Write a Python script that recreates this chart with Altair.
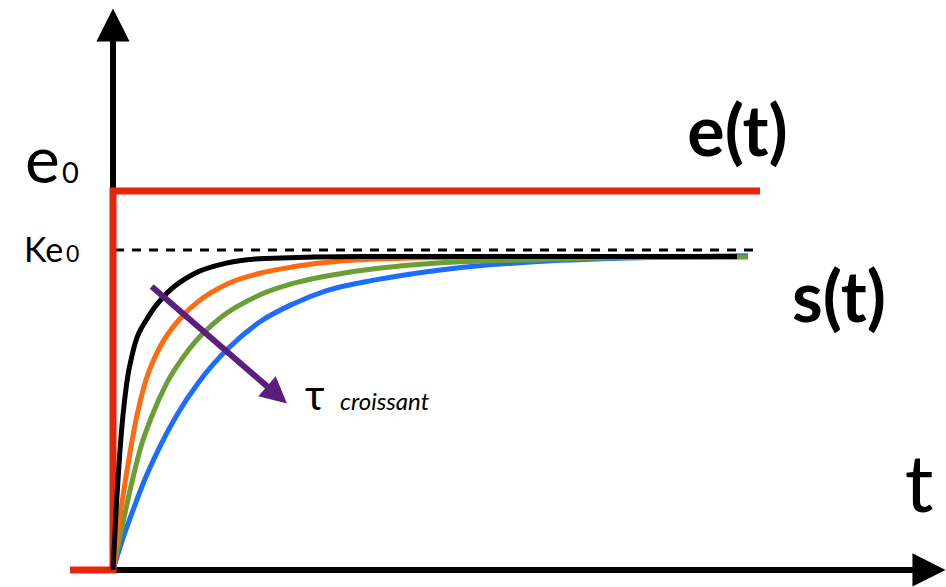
import altair as alt
import pandas as pd

# Step response of first-order systems: input step e(t) and outputs s(t)
# t in arbitrary time units, amplitudes in units of e0.

# Input step e(t)
step_t = [-0.43, 0.0, 0.0, 6.47]
step_s = [0.0, 0.0, 1.0, 1.0]

# Steady-state level K*e0 (dashed reference)
k_level = 0.844
k_t = [0.02, 6.45]

# Outputs s(t), from smallest to largest time constant
t_black = [0.0, 0.037, 0.07, 0.137, 0.203, 0.353, 0.537, 0.82, 1.12, 1.52, 2.5, 4.0, 6.24]
s_black = [0.0, 0.185, 0.317, 0.493, 0.580, 0.668, 0.730, 0.783, 0.809, 0.822, 0.827, 0.827, 0.827]

t_orange = [0.0, 0.053, 0.12, 0.237, 0.32, 0.453, 0.687, 0.87, 1.153, 1.47, 1.8, 2.3, 2.97, 4.0, 6.24]
s_orange = [0.0, 0.111, 0.229, 0.405, 0.493, 0.580, 0.668, 0.712, 0.756, 0.783, 0.800, 0.816, 0.823, 0.826, 0.826]

t_green = [0.0, 0.12, 0.187, 0.27, 0.387, 0.537, 0.753, 1.087, 1.47, 1.8, 2.3, 2.8, 3.47, 4.14, 5.0, 6.35]
s_green = [0.0, 0.150, 0.229, 0.317, 0.405, 0.493, 0.580, 0.668, 0.726, 0.756, 0.783, 0.800, 0.813, 0.818, 0.824, 0.826]

t_blue = [0.0, 0.087, 0.203, 0.32, 0.453, 0.637, 0.853, 1.153, 1.47, 1.8, 2.137, 2.637, 3.137, 3.637, 4.137, 5.0, 6.35]
s_blue = [0.0, 0.074, 0.160, 0.240, 0.317, 0.408, 0.494, 0.585, 0.655, 0.702, 0.737, 0.766, 0.787, 0.802, 0.812, 0.822, 0.829]

# Purple "increasing tau" arrow: start and head position
tau_arrow_t = [0.387, 1.64]
tau_arrow_s = [0.748, 0.462]

# Axis extents (arrow heads sit at the ends)
x_axis_end = 8.0
x_head = 8.16
y_axis_end = 1.40
y_head = 1.438

X_DOMAIN = [-1.13, 8.33]
Y_DOMAIN = [-0.045, 1.504]

RED = "#E5260B"
PURPLE = "#5C1E7C"
FONT = "Lato"

xs = alt.Scale(domain=X_DOMAIN, nice=False, zero=False)
ys = alt.Scale(domain=Y_DOMAIN, nice=False, zero=False)


def X(field="t"):
    return alt.X(f"{field}:Q", scale=xs, axis=None)


def Y(field="s"):
    return alt.Y(f"{field}:Q", scale=ys, axis=None)


def path_df(ts, ss):
    return pd.DataFrame({"t": ts, "s": ss, "i": list(range(len(ts)))})


# Coordinate axes drawn as thick arrows
axes_df = pd.DataFrame({
    "t": [0.0, 0.0], "t2": [x_axis_end, 0.0],
    "s": [0.0, 0.0], "s2": [0.0, y_axis_end],
})
axes = alt.Chart(axes_df).mark_rule(color="black", strokeWidth=6, strokeCap="butt").encode(
    x=X(), x2="t2:Q", y=Y(), y2="s2:Q"
)

heads_df = pd.DataFrame({"t": [x_head, 0.0], "s": [0.0, y_head], "ang": [0, -90]})
heads = alt.Chart(heads_df).mark_point(
    shape="M1,0L-1,1L-1,-1Z", size=1100, filled=True, opacity=1, color="black", strokeWidth=0
).encode(x=X(), y=Y(), angle=alt.Angle("ang:Q", scale=None))

# Input step
step = alt.Chart(path_df(step_t, step_s)).mark_line(
    color=RED, strokeWidth=7, strokeJoin="miter", strokeCap="butt"
).encode(x=X(), y=Y(), order="i:Q")

# K*e0 dashed level
k_df = pd.DataFrame({"t": [k_t[0]], "t2": [k_t[1]], "s": [k_level]})
k_rule = alt.Chart(k_df).mark_rule(color="black", strokeWidth=3, strokeDash=[9, 8]).encode(
    x=X(), x2="t2:Q", y=Y()
)


def curve(ts, ss, color):
    return alt.Chart(path_df(ts, ss)).mark_line(
        color=color, strokeWidth=5, interpolate="monotone", strokeCap="butt"
    ).encode(x=X(), y=Y(), order="i:Q")


curves = [
    curve(t_blue, s_blue, "#1C6CFF"),
    curve(t_green, s_green, "#6A9F36"),
    curve(t_orange, s_orange, "#FF6A0E"),
    curve(t_black, s_black, "#000000"),
]

# Arrow showing the effect of increasing tau
tau_line = alt.Chart(path_df(tau_arrow_t, tau_arrow_s)).mark_line(
    color=PURPLE, strokeWidth=6, strokeCap="butt"
).encode(x=X(), y=Y(), order="i:Q")
tau_head = alt.Chart(pd.DataFrame({"t": [tau_arrow_t[1]], "s": [tau_arrow_s[1]]})).mark_point(
    shape="M1,0L-1,1L-1,-1Z", size=700, filled=True, opacity=1, color=PURPLE, strokeWidth=0, angle=41
).encode(x=X(), y=Y())


def label(text, t, s, size, weight="normal", style="normal", align="left", font=FONT, color="black"):
    return alt.Chart(pd.DataFrame({"t": [t], "s": [s], "txt": [text]})).mark_text(
        font=font, fontSize=size, fontWeight=weight, fontStyle=style,
        align=align, baseline="alphabetic", color=color
    ).encode(x=X(), y=Y(), text="txt:N")


texts = [
    label("e", -0.88, 1.021, 66),
    label("0", -0.51, 1.021, 29),
    label("Ke", -0.89, 0.813, 34),
    label("0", -0.47, 0.813, 23),
    label("e(t)", 6.245, 1.092, 70, weight="bold", align="center"),
    label("s(t)", 7.26, 0.655, 70, weight="bold", align="center"),
    label("t", 8.06, 0.153, 80, align="center"),
    label("τ", 1.92, 0.422, 42),
    label("croissant", 2.27, 0.422, 24, style="italic"),
]

chart = alt.layer(
    axes, heads, k_rule, step, *curves, tau_line, tau_head, *texts
).properties(
    width=946, height=587, autosize=alt.AutoSizeParams(type="none"), padding=0
).configure_view(stroke=None)

chart.save("out.html", embed_options={"renderer": "svg", "actions": False})
